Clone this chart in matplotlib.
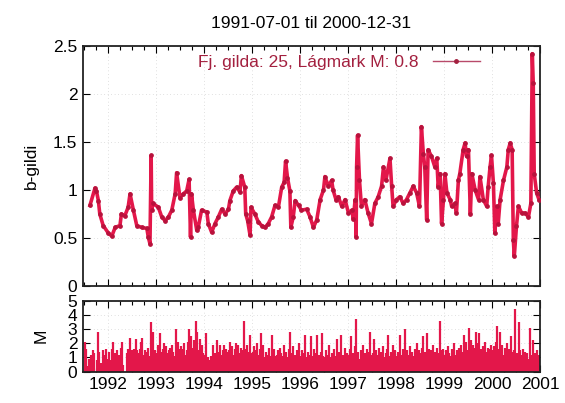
import matplotlib
matplotlib.use("Agg")
import matplotlib.pyplot as plt
from matplotlib import ticker
from matplotlib.lines import Line2D
import numpy as np

plt.rcParams['font.family'] = ['Liberation Sans', 'DejaVu Sans']

title = "1991-07-01 til 2000-12-31"
legend_label = "Fj. gilda: 25, Lágmark M: 0.8"
ylabel_top = "b-gildi"
ylabel_bot = "M"
year_ticks = [1992, 1993, 1994, 1995, 1996, 1997, 1998, 1999, 2000, 2001]
year_labels = ["1992", "1993", "1994", "1995", "1996", "1997", "1998", "1999", "2000", "2001"]

# b-value series (decimal year, value)
b_time = [
    1991.625, 1991.73, 1991.76, 1991.80, 1991.83, 1991.90, 1992.01, 1992.08, 1992.15, 1992.25,
    1992.28, 1992.35, 1992.42, 1992.46, 1992.53, 1992.60, 1992.70, 1992.81, 1992.84, 1992.875,
    1992.90, 1992.91, 1992.94, 1993.05, 1993.12, 1993.19, 1993.26, 1993.33, 1993.40, 1993.43,
    1993.50, 1993.57, 1993.64, 1993.69, 1993.72, 1993.74, 1993.78, 1993.85, 1993.88, 1993.95,
    1994.06, 1994.09, 1994.16, 1994.23, 1994.30, 1994.37, 1994.44, 1994.51, 1994.54, 1994.61,
    1994.68, 1994.75, 1994.78, 1994.85, 1994.87, 1994.91, 1994.96, 1994.98, 1995.06, 1995.13,
    1995.20, 1995.27, 1995.34, 1995.41, 1995.48, 1995.55, 1995.62, 1995.67, 1995.70, 1995.74,
    1995.79, 1995.81, 1995.86, 1995.90, 1995.97, 1996.03, 1996.14, 1996.21, 1996.28, 1996.35,
    1996.42, 1996.49, 1996.52, 1996.59, 1996.66, 1996.69, 1996.75, 1996.80, 1996.87, 1996.94,
    1997.01, 1997.08, 1997.11, 1997.15, 1997.17, 1997.18, 1997.20, 1997.24, 1997.28, 1997.35,
    1997.42, 1997.49, 1997.56, 1997.63, 1997.70, 1997.74, 1997.79, 1997.875, 1997.91, 1997.94,
    1998.01, 1998.08, 1998.15, 1998.22, 1998.29, 1998.36, 1998.43, 1998.49, 1998.53, 1998.57,
    1998.60, 1998.64, 1998.67, 1998.74, 1998.81, 1998.85, 1998.88, 1998.92, 1998.95, 1998.99,
    1999.02, 1999.06, 1999.13, 1999.16, 1999.23, 1999.26, 1999.30, 1999.33, 1999.40, 1999.44,
    1999.47, 1999.51, 1999.55, 1999.58, 1999.65, 1999.72, 1999.75, 1999.82, 1999.89, 1999.92,
    1999.96, 1999.99, 2000.03, 2000.06, 2000.10, 2000.13, 2000.17, 2000.24, 2000.31, 2000.34,
    2000.38, 2000.42, 2000.445, 2000.465, 2000.51, 2000.55, 2000.62, 2000.69, 2000.76, 2000.81,
    2000.84, 2000.86, 2000.88, 2000.93, 2000.98,
]
b_value = [
    0.84, 1.02, 0.99, 0.89, 0.75, 0.63, 0.55, 0.52, 0.61, 0.63,
    0.75, 0.73, 0.82, 0.96, 0.79, 0.63, 0.61, 0.60, 0.51, 0.44,
    1.36, 0.79, 0.86, 0.82, 0.72, 0.68, 0.72, 0.79, 0.96, 1.18,
    0.92, 0.96, 0.99, 1.11, 0.51, 0.96, 0.79, 0.58, 0.61, 0.79,
    0.77, 0.65, 0.56, 0.65, 0.72, 0.80, 0.75, 0.80, 0.89, 0.99,
    1.03, 0.98, 1.15, 1.03, 0.75, 0.68, 0.53, 0.82, 0.75, 0.67,
    0.63, 0.61, 0.65, 0.72, 0.84, 0.82, 1.03, 1.08, 1.30, 1.13,
    0.99, 0.61, 0.72, 0.89, 0.84, 0.79, 0.80, 0.72, 0.61, 0.69,
    0.90, 1.00, 1.14, 1.04, 1.10, 1.00, 0.90, 0.93, 0.83, 0.90,
    0.76, 0.79, 0.70, 0.90, 0.51, 1.24, 1.57, 1.10, 0.83, 0.90,
    0.76, 0.65, 0.86, 0.93, 1.04, 1.24, 1.10, 1.33, 1.04, 0.83,
    0.90, 0.93, 0.86, 0.90, 0.97, 1.04, 0.97, 0.83, 1.66, 1.38,
    1.24, 0.69, 1.42, 1.35, 1.24, 1.33, 1.03, 1.17, 0.65, 0.90,
    1.17, 0.97, 0.90, 0.83, 0.86, 0.76, 1.10, 1.17, 1.42, 1.49,
    1.35, 1.42, 0.75, 1.17, 1.00, 0.90, 1.14, 0.90, 0.83, 1.03,
    1.24, 1.36, 1.07, 0.55, 0.83, 0.65, 0.90, 1.10, 1.24, 1.42,
    1.49, 1.42, 0.48, 0.31, 0.62, 0.83, 0.76, 0.76, 0.72, 0.86,
    2.42, 2.11, 1.17, 0.97, 0.90,
]

# Magnitudes, one value per 1/40 year starting 1991.5 (rows = half years)
m_start = 1991.5
m_step = 1.0 / 40.0
m_value = [
    2.1, 1.6, 0.4, 0.0, 0.9, 1.2, 0.0, 1.5, 1.3, 0.0, 0.8, 2.8, 1.4, 0.0, 0.6, 1.5, 1.2, 0.0, 1.6, 0.9,
    1.4, 0.8, 0.0, 1.6, 2.1, 1.3, 0.9, 1.5, 0.0, 1.2, 1.7, 2.1, 0.5, 0.0, 0.0, 1.3, 1.6, 1.2, 2.4, 1.5,
    1.5, 1.6, 1.4, 2.3, 1.5, 1.3, 1.6, 2.1, 2.4, 1.2, 1.5, 1.4, 1.3, 1.7, 1.1, 3.5, 1.6, 2.8, 1.0, 1.5,
    1.3, 1.9, 1.1, 2.7, 1.4, 1.6, 2.0, 1.2, 1.8, 1.3, 1.5, 1.7, 1.2, 1.9, 1.4, 1.1, 3.0, 1.5, 2.1, 1.6,
    1.8, 1.3, 1.6, 2.0, 1.2, 1.5, 2.1, 3.0, 1.4, 2.5, 1.7, 2.2, 1.3, 3.6, 2.8, 1.5, 2.3, 1.6, 1.9, 1.3,
    1.2, 2.7, 0.9, 1.0, 0.8, 1.1, 0.9, 1.9, 1.0, 1.3, 2.2, 1.1, 1.4, 1.9, 1.2, 1.5, 1.9, 1.3, 1.6, 1.4,
    1.5, 2.1, 1.3, 1.8, 1.2, 1.6, 2.0, 1.4, 1.9, 1.3, 1.7, 1.2, 1.5, 3.6, 1.6, 1.9, 1.2, 1.4, 2.6, 1.3,
    1.4, 1.8, 1.1, 1.5, 2.0, 1.2, 1.6, 2.7, 1.3, 1.9, 1.0, 1.4, 0.8, 1.2, 1.7, 1.1, 2.6, 1.4, 1.6, 1.1,
    1.2, 1.5, 1.0, 1.7, 1.3, 1.1, 1.9, 1.2, 1.4, 1.0, 1.6, 2.8, 1.3, 1.1, 1.8, 1.2, 1.0, 1.5, 1.3, 2.0,
    1.1, 1.5, 0.9, 1.3, 2.6, 1.0, 1.4, 1.2, 0.9, 2.5, 1.1, 1.6, 1.0, 1.3, 2.6, 1.2, 0.9, 1.4, 2.7, 1.1,
    1.0, 1.5, 0.8, 1.2, 1.9, 1.0, 1.3, 0.9, 1.6, 1.1, 2.3, 1.0, 1.4, 0.8, 2.6, 1.2, 1.0, 1.7, 0.9, 1.3,
    1.2, 1.6, 2.5, 1.0, 1.3, 1.8, 3.7, 1.1, 1.4, 0.9, 1.5, 1.2, 1.9, 1.0, 1.3, 1.6, 1.1, 1.4, 2.8, 1.2,
    1.3, 2.3, 1.0, 1.5, 1.2, 1.7, 0.9, 1.4, 1.1, 1.8, 1.0, 1.3, 1.6, 2.6, 1.1, 1.4, 1.0, 1.9, 1.2, 1.5,
    1.1, 1.4, 1.0, 2.6, 1.2, 1.6, 1.3, 3.0, 1.0, 1.5, 1.2, 1.8, 0.9, 1.4, 1.1, 1.6, 1.3, 2.0, 1.0, 1.5,
    1.3, 1.7, 2.5, 1.1, 1.4, 2.7, 1.2, 1.6, 1.0, 1.5, 1.9, 1.2, 1.4, 1.1, 1.7, 1.3, 3.6, 1.5, 1.2, 1.6,
    1.2, 1.5, 1.0, 1.8, 1.3, 1.1, 1.6, 1.4, 2.0, 1.2, 1.5, 1.1, 1.7, 1.3, 1.9, 1.4, 2.6, 1.6, 2.1, 1.5,
    3.1, 1.6, 2.2, 1.4, 1.9, 1.7, 2.8, 1.5, 2.0, 2.7, 1.6, 1.3, 1.8, 1.5, 2.1, 1.4, 1.7, 1.2, 1.6, 1.9,
    1.5, 1.8, 1.3, 2.1, 3.2, 1.6, 2.8, 1.4, 1.9, 1.2, 1.7, 1.5, 2.0, 1.3, 1.6, 2.5, 1.4, 1.2, 1.5, 4.4,
    1.3, 1.1, 3.5, 1.5, 1.2, 1.6, 1.0, 1.4, 1.1, 1.3, 0.9, 3.1, 1.2, 1.0, 2.2, 1.3, 0.8, 1.5, 1.1, 1.2,
]
m_time = m_start + m_step * (np.arange(len(m_value)) + 0.5)

line_color = '#e3174a'
point_color = '#b8123c'
legend_color = '#a3203f'

fig = plt.figure(figsize=(5.65, 4.03), dpi=100)
ax1 = fig.add_axes([0.1469, 0.2903, 0.8088, 0.5955])
ax2 = fig.add_axes([0.1469, 0.0777, 0.8088, 0.1762])

xlim = (1991.48, 2001.0)

# top panel
ax1.plot(b_time, b_value, color=line_color, lw=2.6, marker='o', ms=2.4,
         mfc=point_color, mec=point_color, zorder=3)
ax1.set_xlim(*xlim)
ax1.set_ylim(0, 2.5)
ax1.set_yticks([0, 0.5, 1, 1.5, 2, 2.5])
ax1.yaxis.set_major_formatter(ticker.FuncFormatter(lambda v, p: f"{v:g}"))
ax1.set_xticks(year_ticks)
ax1.set_xticklabels([])
ax1.xaxis.set_minor_locator(ticker.MultipleLocator(0.25))
ax1.set_ylabel(ylabel_top, fontsize=12.5, labelpad=10)
ax1.set_title(title, fontsize=12.5, pad=13)

handle = Line2D([0], [0], color='#b84a6a', lw=1.0, marker='o', ms=2.5,
                mfc=legend_color, mec=legend_color)
leg = ax1.legend([handle], [legend_label], loc='center right',
                 bbox_to_anchor=(0.868, 0.933), frameon=False, markerfirst=False,
                 handlelength=2.7, handletextpad=0.8, borderpad=0, borderaxespad=0,
                 numpoints=1, fontsize=12.5)
for t in leg.get_texts():
    t.set_color(legend_color)

# bottom panel
ax2.vlines(m_time, 0, m_value, color=line_color, lw=1.6)
ax2.set_xlim(*xlim)
ax2.set_ylim(0, 5)
ax2.set_yticks([0, 1, 2, 3, 4, 5])
ax2.set_xticks(year_ticks)
ax2.set_xticklabels(year_labels)
ax2.xaxis.set_minor_locator(ticker.MultipleLocator(0.25))
ax2.set_ylabel(ylabel_bot, fontsize=12.5, labelpad=14)

for ax in (ax1, ax2):
    ax.tick_params(which='both', direction='in', top=True, right=True,
                   labelsize=12.5, width=0.8, color='black')
    ax.tick_params(which='major', length=5, pad=4)
    ax.tick_params(which='minor', length=3)
    ax.grid(True, which='major', color='#c4c4c4', lw=0.5, linestyle=(0, (1, 4)))
    for s in ax.spines.values():
        s.set_linewidth(1.3)
        s.set_color('#222222')

fig.savefig("out.png", dpi=100)
